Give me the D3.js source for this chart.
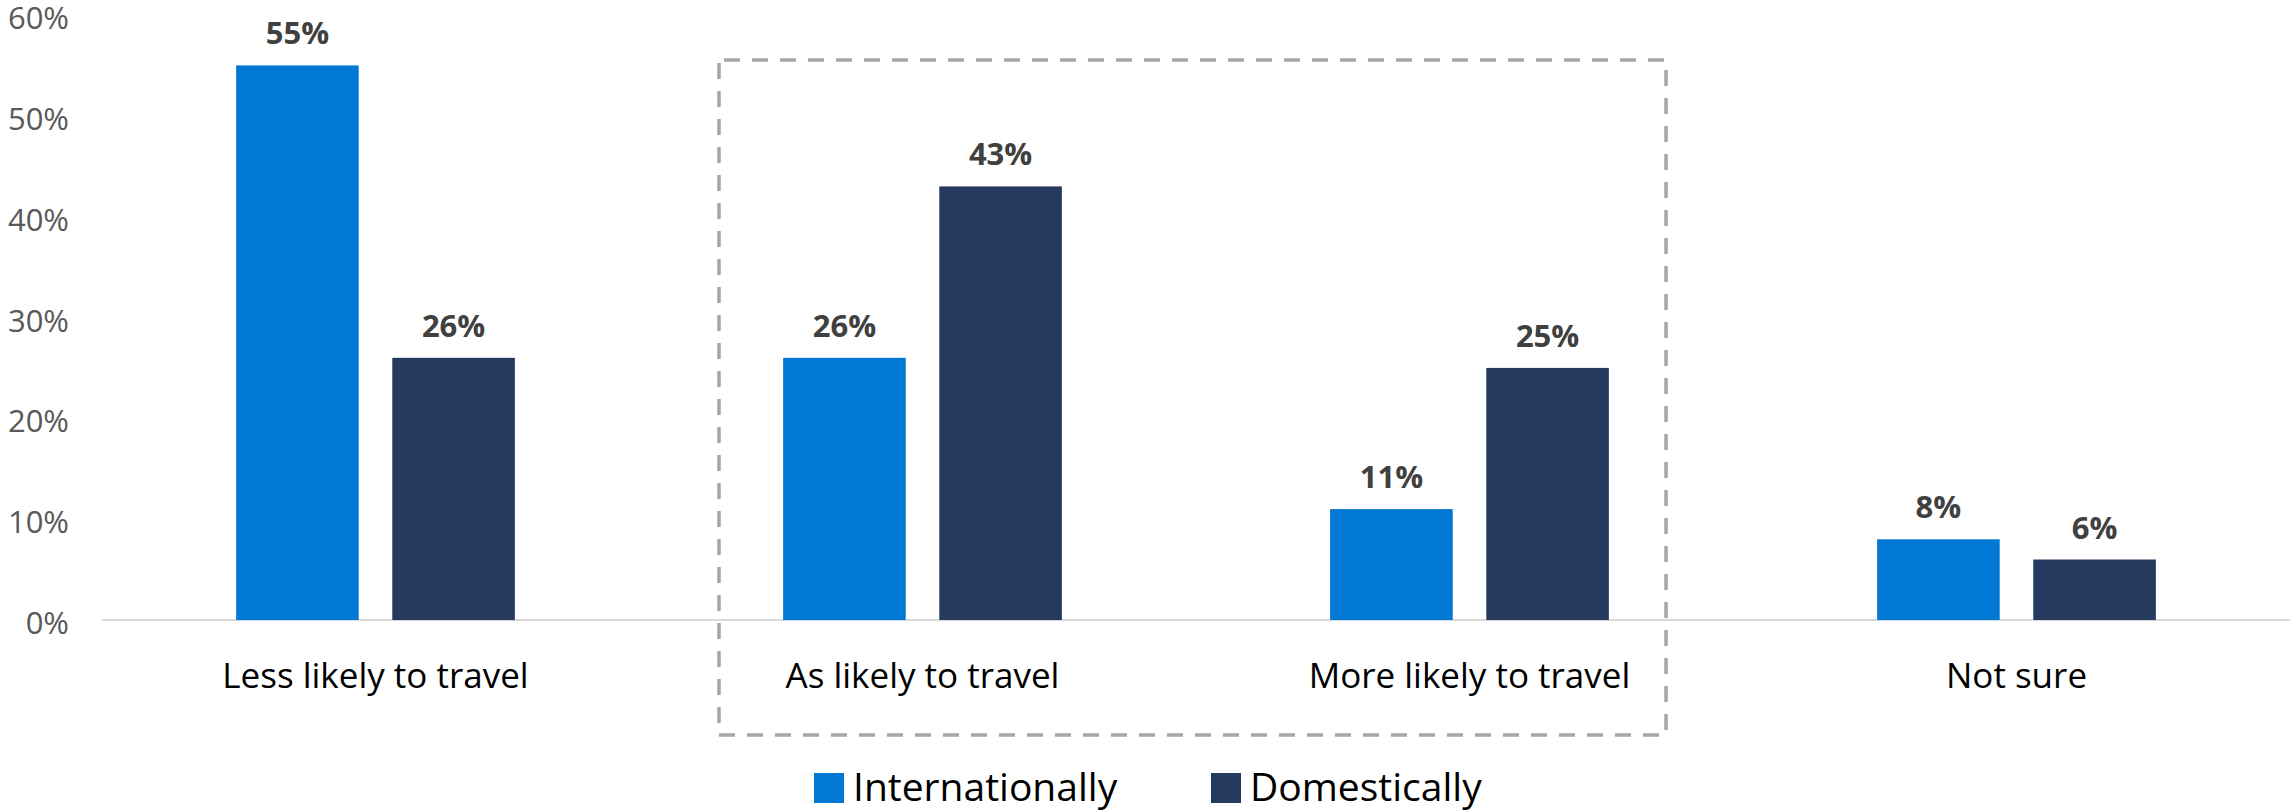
<!DOCTYPE html>
<html>
<head>
<meta charset="utf-8">
<script src="https://cdn.jsdelivr.net/npm/d3@7"></script>
<style>
  html, body { margin: 0; padding: 0; background: #fff; }
  svg { display: block; font-family: "Open Sans", "Noto Sans", sans-serif; }
</style>
</head>
<body>
<svg id="chart" width="2290" height="812"></svg>
<script>
// Travel intention by category, share of respondents (%)
const categories = ["Less likely to travel", "As likely to travel", "More likely to travel", "Not sure"];
const seriesNames = ["Internationally", "Domestically"];
const internationally = [55, 26, 11, 8];
const domestically = [26, 43, 25, 6];
const yTicks = [0, 10, 20, 30, 40, 50, 60];
// categories grouped inside the dashed outline
const highlighted = ["As likely to travel", "More likely to travel"];

const colors = { Internationally: "#0078D4", Domestically: "#253A5E" };
const seriesValues = { Internationally: internationally, Domestically: domestically };

const width = 2290;
const margin = { left: 102, right: 0 };
const svg = d3.select("#chart");

const x0 = d3.scaleBand().domain(categories).range([margin.left, width - margin.right]).padding(0);
const x1 = d3.scaleBand().domain(seriesNames).range([0, x0.bandwidth()])
  .paddingInner(0.215).paddingOuter(0.859);
const y = d3.scaleLinear().domain([0, 60]).range([620, 15]);

// y-axis tick labels (no axis line or tick marks)
const yAxis = d3.axisLeft(y).tickValues(yTicks).tickFormat(d => d + "%").tickSize(0).tickPadding(0);
const yG = svg.append("g").attr("transform", "translate(69,0)").call(yAxis);
yG.select(".domain").remove();
yG.selectAll("text")
  .attr("font-family", "Open Sans, Noto Sans, sans-serif")
  .attr("font-size", 31)
  .attr("fill", "#595959")
  .attr("dy", "0.44em");

// baseline
svg.append("line")
  .attr("x1", x0.range()[0]).attr("x2", x0.range()[1])
  .attr("y1", y(0)).attr("y2", y(0))
  .attr("stroke", "#D9D9D9").attr("stroke-width", 2);

const rows = categories.map((c, i) => ({
  category: c,
  values: seriesNames.map(s => ({ series: s, value: seriesValues[s][i] }))
}));

const groups = svg.append("g").selectAll("g")
  .data(rows).join("g")
  .attr("transform", d => `translate(${x0(d.category)},0)`);

groups.selectAll("rect")
  .data(d => d.values).join("rect")
  .attr("x", d => x1(d.series))
  .attr("y", d => y(d.value))
  .attr("width", x1.bandwidth())
  .attr("height", d => y(0) - y(d.value))
  .attr("fill", d => colors[d.series]);

groups.selectAll("text.value")
  .data(d => d.values).join("text")
  .attr("class", "value")
  .attr("x", d => x1(d.series) + x1.bandwidth() / 2)
  .attr("y", d => y(d.value) - 21)
  .attr("text-anchor", "middle")
  .attr("font-size", 31)
  .attr("font-weight", 700)
  .attr("fill", "#404040")
  .text(d => d.value + "%");

// category labels
const xAxis = d3.axisBottom(x0).tickSize(0).tickPadding(0);
const xG = svg.append("g").attr("transform", `translate(0,${y(0)})`).call(xAxis);
xG.select(".domain").remove();
xG.selectAll("text")
  .attr("font-family", "Open Sans, Noto Sans, sans-serif")
  .attr("font-size", 35)
  .attr("fill", "#000")
  .attr("dy", null)
  .attr("y", 68);

// dashed outline around the highlighted categories
const boxLeft = x0(highlighted[0]) + 70;
const boxRight = x0(highlighted[highlighted.length - 1]) + x0.bandwidth() - 77;
svg.append("rect")
  .attr("x", boxLeft).attr("y", 60)
  .attr("width", boxRight - boxLeft).attr("height", 675)
  .attr("fill", "none")
  .attr("stroke", "#A6A6A6")
  .attr("stroke-width", 3.5)
  .attr("stroke-dasharray", "16 12")
  .attr("stroke-dashoffset", -5);

// legend
const legendItems = [
  { name: "Internationally", x: 814 },
  { name: "Domestically", x: 1211 }
];
const legend = svg.append("g").selectAll("g")
  .data(legendItems).join("g")
  .attr("transform", d => `translate(${d.x},773)`);
legend.append("rect")
  .attr("width", 30).attr("height", 30)
  .attr("fill", d => colors[d.name]);
legend.append("text")
  .attr("x", 39).attr("y", 28)
  .attr("font-size", 39)
  .attr("fill", "#000")
  .text(d => d.name);
</script>
</body>
</html>
